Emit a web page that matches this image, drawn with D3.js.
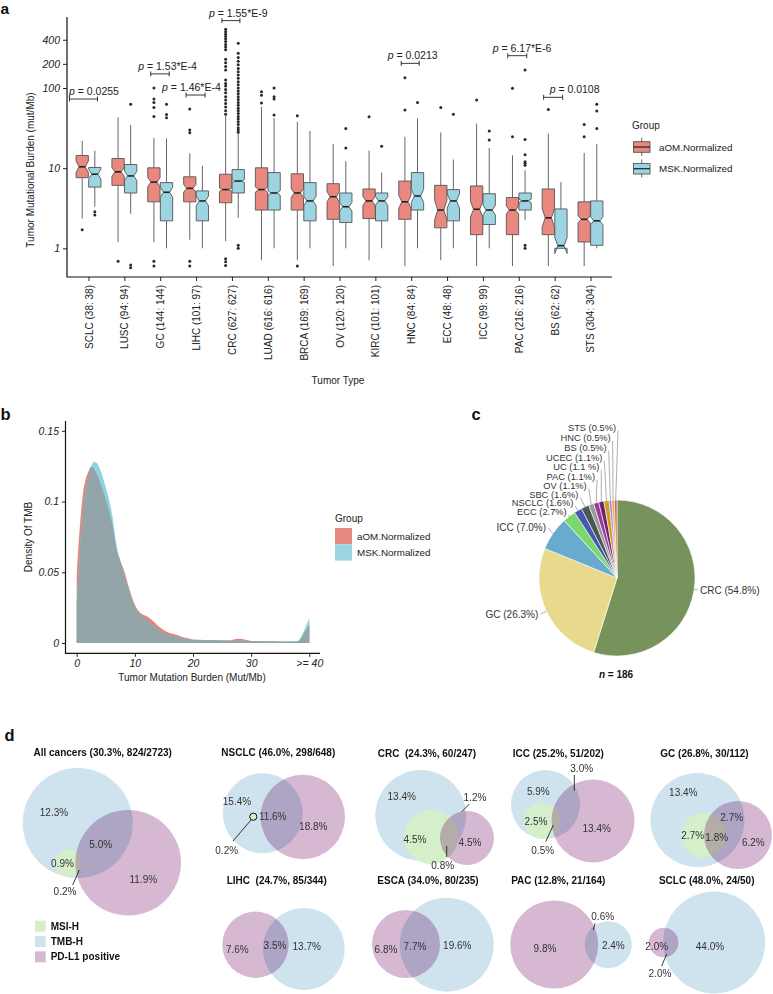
<!DOCTYPE html>
<html><head><meta charset="utf-8">
<script src="https://cdn.jsdelivr.net/npm/d3@7"></script>
<style>
body{margin:0;background:#fff;}
svg text{font-family:"Liberation Sans",Arial,Helvetica,sans-serif;}
</style></head><body>
<svg id="fig" width="773" height="994"></svg>
<script>
// ================= DATA =================
// Panel a
const tumorTypes = ["SCLC","LUSC","GC","LIHC","CRC","LUAD","BRCA","OV","KIRC","HNC","ECC","ICC","PAC","BS","STS"];
const nAOM = [38,94,144,101,627,616,169,120,101,84,48,99,216,62,304];
const nMSK = [38,94,144,97,627,616,169,120,101,84,48,99,216,62,304];
// [lower whisker, Q1, median, Q3, upper whisker]  (mut/Mb)
const aomStats = [
 [2.35,7.6,10.4,14.4,21.9],[1.2,6.1,9.0,13.2,43],[1.2,3.8,6.7,10.1,23.9],[1.28,3.8,5.6,7.8,15.3],
 [1.23,3.7,5.4,8.4,45],[0.71,3.0,5.4,10.1,58],[0.71,3.0,4.9,8.5,37.9],[0.6,2.3,4.4,6.4,20],
 [0.71,2.35,3.9,5.5,16.5],[0.6,2.3,3.8,6.9,24.6],[0.71,1.8,3.0,6.1,27.9],[0.6,1.48,3.07,6.0,36],
 [0.6,1.48,3.0,4.3,14.5],[0.6,1.48,2.4,5.5,27],[0.6,1.2,2.3,3.8,15.5]];
const mskStats = [
 [3.3,5.8,8.4,10.2,16.5],[2.7,4.9,8.0,11.1,34.5],[1.0,2.2,5.0,6.6,23.5],[1.0,2.2,3.9,5.2,10.7],
 [2.4,4.9,6.9,9.6,27],[1.0,3.0,4.9,8.8,42],[1.0,2.2,3.9,6.6,29],[1.0,2.1,3.3,4.9,12.2],
 [1.0,2.2,3.9,4.9,8.8],[1.0,3.0,4.5,8.8,41.8],[1.0,2.2,3.9,5.4,12.8],[1.0,1.98,3.0,4.8,17.9],
 [2.24,3.0,3.9,4.9,9.4],[1.0,1.0,1.08,3.1,6.7],[1.0,1.09,2.2,3.9,20]];
const aomOutliers = [
 [1.71],[0.69],[100,73,66,57,44,0.69,0.6],[54.6,29.9,27.6,0.69,0.6],
 [540,505,470,440,410,380,350,325,300,228,207,185,168,126,114,106,96,87,78,71,64,58,52,47,0.74,0.68,0.61],
 [90,81,65],[45,0.6],[],[43.8],[134,53],[57],[70.8],[99,24.6],[54],[35,24.6]];
const mskOutliers = [
 [2.85,2.6],[62.5,0.62,0.57],[62.5,46.8,42.4],[],
 [362,271,240,215,195,175,160,145,132,120,110,100,92,85,78,72,66,61,56,52,48,44,41,38,35,32,30,28,1.09,1.0],
 [100,78,73,46],[],[31.3,17.9],[18.8],[66],[47],[29,22.4],[168,22.8,14.7,12,11.5,10.9,1.09,1.0],[],[62.9,51.5,31.3]];
const yTicksA = [1,10,100,200,400];
const pCats = ["SCLC","GC","LIHC","CRC","HNC","PAC","BS"];
const pTexts = ["0.0255","1.53*E-4","1.46*E-4","1.55*E-9","0.0213","6.17*E-6","0.0108"];
const pLevels = [72.9,150,81.7,693,203,253,76.5];
const groupNames = ["aOM.Normalized","MSK.Normalized"];

// Panel b
const tmbGrid = [0,0.5,1,1.5,2,2.5,3,3.5,4,5,6,7,7.5,8,9,10,11,12,13,14,15,16,17,18,19,20,22,24,26,28,30,32,34,36,38,39,40];
const densAOM = [0.048,0.08,0.103,0.115,0.121,0.1245,0.123,0.119,0.114,0.101,0.086,0.064,0.058,0.053,0.039,0.027,0.021,0.019,0.016,0.012,0.009,0.007,0.006,0.0045,0.0035,0.0025,0.0022,0.002,0.0018,0.003,0.0015,0.0012,0.0014,0.0008,0.001,0.006,0.013];
const densMSK = [0.028,0.062,0.09,0.107,0.118,0.125,0.128,0.127,0.123,0.11,0.093,0.066,0.058,0.05,0.037,0.026,0.02,0.0165,0.013,0.0095,0.007,0.0055,0.0045,0.0035,0.0028,0.0022,0.002,0.002,0.0016,0.0018,0.0014,0.0012,0.001,0.0012,0.0015,0.008,0.0176];
const xTicksB = [0,10,20,30,40];
const xTickLabelsB = ["0","10","20","30",">= 40"];
const yTicksB = [0,0.05,0.1,0.15];

// Panel c
const pieLabels = ["CRC","GC","ICC","ECC","NSCLC","SBC","OV","PAC","UC","UCEC","BS","HNC","STS"];
const pieCounts = [102,49,13,5,3,3,2,2,2,2,1,1,1];
const piePct = ["54.8%","26.3%","7.0%","2.7%","1.6%","1.6%","1.1%","1.1%","1.1 %","1.1%","0.5%","0.5%","0.5%"];
const pieColors = ["#77925A","#E7DA8C","#68ABCF","#7DD86B","#4557B0","#4B5752","#9797A4","#9A3A8E","#6A2476","#D49B1F","#8E86DD","#E7A05A","#D6643C"];
const pieN = 186;

// Panel d
const vennTitles = ["All cancers (30.3%, 824/2723)","NSCLC (46.0%, 298/648)","CRC  (24.3%, 60/247)","ICC (25.2%, 51/202)","GC (26.8%, 30/112)",
  "LIHC  (24.7%, 85/344)","ESCA (34.0%, 80/235)","PAC (12.8%, 21/164)","SCLC (48.0%, 24/50)"];
const vennRegions = [
  ["12.3%","5.0%","0.9%","11.9%","0.2%"],
  ["15.4%","11.6%","18.8%","0.2%"],
  ["13.4%","1.2%","4.5%","4.5%","0.8%"],
  ["5.9%","3.0%","2.5%","13.4%","0.5%"],
  ["13.4%","2.7%","2.7%","1.8%","6.2%"],
  ["7.6%","3.5%","13.7%"],
  ["6.8%","7.7%","19.6%"],
  ["9.8%","2.4%","0.6%"],
  ["2.0%","44.0%","2.0%"]];
const vennSets = ["MSI-H","TMB-H","PD-L1 positive"];

// ================= LAYOUT =================
const svg = d3.select("#fig");
svg.append("rect").attr("width",773).attr("height",994).attr("fill","#fff");
const RED="#E9887E", BLUE="#9CD4E1", STROKE="#555";

function panelLabel(t,x,y,fs){svg.append("text").attr("x",x).attr("y",y).attr("font-size",fs).attr("font-weight","bold").attr("fill","#111").text(t);}
panelLabel("a",0.5,14,15.5);panelLabel("b",0.5,419.5,16.5);panelLabel("c",471.5,419.5,16.5);panelLabel("d",4.5,740.5,16.5);

// ---------- Panel a ----------
const gA = svg.append("g");
const xA = d3.scalePoint().domain(tumorTypes).range([67,612]).padding(0.6);
const yA = d3.scaleLog().domain([1,100]).range([248.3,88]);
const yAxA = gA.append("g").attr("transform","translate(67,0)")
  .call(d3.axisLeft(yA).tickValues(yTicksA).tickFormat(d3.format("d")).tickSize(4).tickPadding(3));
yAxA.select(".domain").remove();
yAxA.selectAll("text").attr("font-size",10.5).attr("font-style","italic").attr("fill","#222");
yAxA.selectAll("line").attr("stroke","#222");
const xAxA = gA.append("g").attr("transform","translate(0,277)")
  .call(d3.axisBottom(xA).tickSize(4).tickFormat((d,i)=>`${d} (${nAOM[i]}: ${nMSK[i]})`));
xAxA.select(".domain").remove();
xAxA.selectAll("line").attr("stroke","#222");
xAxA.selectAll("text").attr("font-size",10).attr("fill","#222")
  .attr("transform","rotate(-90)").attr("text-anchor","end").attr("x",-8).attr("y",0).attr("dy","0.35em");
gA.append("path").attr("d","M67,17V277H612").attr("fill","none").attr("stroke","#111").attr("stroke-width",1.2);

gA.append("text").attr("transform","translate(34,170) rotate(-90)").attr("text-anchor","middle")
  .attr("font-size",10).attr("fill","#222").text("Tumor Mutational Burden (mut/Mb)");
gA.append("text").attr("x",338).attr("y",384).attr("text-anchor","middle").attr("font-size",10).attr("fill","#222").text("Tumor Type");

const boxW = 12.3, off = 6.3;
function drawBox(g, cx, st, n, fill, outl){
  const [lw,q1,med,q3,uw] = st;
  const nd = 1.58*(Math.log10(q3)-Math.log10(q1))/Math.sqrt(n);
  const nu = Math.pow(10,Math.log10(med)+nd), nl = Math.pow(10,Math.log10(med)-nd);
  const xl = cx-boxW/2, xr = cx+boxW/2, ni = boxW/4;
  g.append("line").attr("x1",cx).attr("x2",cx).attr("y1",yA(q3)).attr("y2",yA(uw)).attr("stroke",STROKE).attr("stroke-width",0.9);
  g.append("line").attr("x1",cx).attr("x2",cx).attr("y1",yA(q1)).attr("y2",yA(lw)).attr("stroke",STROKE).attr("stroke-width",0.9);
  const pts = [[xl,yA(q3)],[xl,yA(nu)],[xl+ni,yA(med)],[xl,yA(nl)],[xl,yA(q1)],[xr,yA(q1)],[xr,yA(nl)],[xr-ni,yA(med)],[xr,yA(nu)],[xr,yA(q3)]];
  g.append("path").attr("d",d3.line()(pts)+"Z").attr("fill",fill).attr("stroke",STROKE).attr("stroke-width",0.9);
  g.append("line").attr("x1",xl+ni).attr("x2",xr-ni).attr("y1",yA(med)).attr("y2",yA(med)).attr("stroke","#222").attr("stroke-width",1.6);
  outl.forEach(v=>g.append("circle").attr("cx",cx).attr("cy",yA(v)).attr("r",1.5).attr("fill","#2a2a2a"));
}
tumorTypes.forEach((t,i)=>{
  drawBox(gA, xA(t)-off, aomStats[i], nAOM[i], RED, aomOutliers[i]);
  drawBox(gA, xA(t)+off, mskStats[i], nMSK[i], BLUE, mskOutliers[i]);
});
// p-value brackets (layout offsets relative to category centre)
const pLeft=[-19,-9.5,-10,-10,-10,-11,-11], pRight=[9,9,9,8,8,8,8], pTextDx=[-19.5,-22,-34,-23,-23.5,-26,-5];
pCats.forEach((c,i)=>{
  const cx = xA(c), yy = yA(pLevels[i]);
  gA.append("path").attr("d",`M${cx+pLeft[i]},${yy-2.5}V${yy+2.5}M${cx+pLeft[i]},${yy}H${cx+pRight[i]}M${cx+pRight[i]},${yy-2.5}V${yy+2.5}`)
    .attr("stroke","#222").attr("stroke-width",0.9).attr("fill","none");
  const tx = gA.append("text").attr("x",cx+pTextDx[i]).attr("y",yy-4).attr("font-size",10.5).attr("fill","#222");
  tx.append("tspan").attr("font-style","italic").text("p");
  tx.append("tspan").text(" = "+pTexts[i]);
});
// legend a
gA.append("text").attr("x",632).attr("y",129).attr("font-size",10).attr("fill","#222").text("Group");
[RED,BLUE].forEach((c,i)=>{
  const y0 = 141.7 + i*21.7;
  gA.append("line").attr("x1",641.7).attr("x2",641.7).attr("y1",y0-4).attr("y2",y0+14).attr("stroke",STROKE).attr("stroke-width",0.9);
  gA.append("rect").attr("x",633.5).attr("y",y0).attr("width",16.5).attr("height",10.6).attr("fill",c).attr("stroke",STROKE).attr("stroke-width",0.9);
  gA.append("line").attr("x1",633.5).attr("x2",650).attr("y1",y0+5.3).attr("y2",y0+5.3).attr("stroke","#222").attr("stroke-width",1.2);
  gA.append("text").attr("x",659).attr("y",y0+8.8).attr("font-size",9.8).attr("fill","#222").text(groupNames[i]);
});

// ---------- Panel b ----------
const gB = svg.append("g");
const xB = d3.scaleLinear().domain([0,40]).range([76.7,309.3]);
const yB = d3.scaleLinear().domain([0,0.15]).range([643,430.8]);
const areaB = d3.area().x((d,i)=>xB(tmbGrid[i])).y0(yB(0)).y1(d=>yB(d)).curve(d3.curveMonotoneX);
gB.append("path").attr("d",areaB(densAOM)).attr("fill","#E98379");
gB.append("path").attr("d",areaB(densMSK)).attr("fill","#8ED1E0");
gB.append("path").attr("d",areaB(densAOM.map((v,i)=>Math.min(v,densMSK[i])))).attr("fill","#93A5A9");
const yAxB = gB.append("g").attr("transform","translate(65.5,0)")
  .call(d3.axisLeft(yB).tickValues(yTicksB).tickFormat(d=>d===0?"0":String(d)).tickSize(3.5).tickPadding(3));
yAxB.select(".domain").remove();
yAxB.selectAll("text").attr("font-size",10.5).attr("font-style","italic").attr("fill","#222");
yAxB.selectAll("line").attr("stroke","#222");
const xAxB = gB.append("g").attr("transform","translate(0,653.3)")
  .call(d3.axisBottom(xB).tickValues(xTicksB).tickFormat((d,i)=>xTickLabelsB[i]).tickSize(3.5).tickPadding(3));
xAxB.select(".domain").remove();
xAxB.selectAll("text").attr("font-size",10.5).attr("font-style","italic").attr("fill","#222");
xAxB.selectAll("line").attr("stroke","#222");
gB.append("path").attr("d","M65.5,421V653.3H320").attr("fill","none").attr("stroke","#111").attr("stroke-width",1.2);
gB.append("text").attr("transform","translate(32,537) rotate(-90)").attr("text-anchor","middle").attr("font-size",10).attr("fill","#222").text("Density Of TMB");
gB.append("text").attr("x",192).attr("y",681).attr("text-anchor","middle").attr("font-size",10).attr("fill","#222").text("Tumor Mutation Burden (Mut/Mb)");
gB.append("text").attr("x",335).attr("y",521.5).attr("font-size",10).attr("fill","#222").text("Group");
["#E98A80","#9DD5E1"].forEach((c,i)=>{
  gB.append("rect").attr("x",335).attr("y",528+i*16.3).attr("width",17).attr("height",16.3).attr("fill",c);
  gB.append("text").attr("x",357).attr("y",539.5+i*16.5).attr("font-size",9.8).attr("fill","#222").text(groupNames[i]);
});

// ---------- Panel c ----------
const gC = svg.append("g");
const pcx = 617, pcy = 578, pr = 78;
const pieGen = d3.pie().sort(null).value(d=>d);
const arcs = pieGen(pieCounts);
const arcGen = d3.arc().innerRadius(0).outerRadius(pr);
gC.selectAll("path.slice").data(arcs).join("path").attr("class","slice")
  .attr("transform",`translate(${pcx},${pcy})`).attr("d",arcGen)
  .attr("fill",(d,i)=>pieColors[i]).attr("stroke","#fff").attr("stroke-width",0.6);
// label anchor layout: [x, y(centre), anchor]
const pieLabelPos = [[700,590,"start"],[538.3,614.3,"end"],[546,527.7,"end"],[566.7,512,"end"],[573.3,503,"end"],[578.3,494.5,"end"],
  [586.7,485.5,"end"],[595,477,"end"],[599.3,466.7,"end"],[602.3,457.7,"end"],[606.7,447.7,"end"],[610.7,437.7,"end"],[616,427.7,"end"]];
arcs.forEach((a,i)=>{
  const m = (a.startAngle+a.endAngle)/2;
  const ex = pcx + pr*Math.sin(m), ey = pcy - pr*Math.cos(m);
  const [lx,ly,anc] = pieLabelPos[i];
  const sx = anc==="start" ? lx-2 : lx+2, sy = i>=3 ? ly+3 : ly;
  gC.append("line").attr("x1",sx).attr("y1",sy).attr("x2",ex).attr("y2",ey).attr("stroke","#777").attr("stroke-width",0.6);
  gC.append("text").attr("x",lx).attr("y",ly).attr("dy","0.35em").attr("text-anchor",anc).attr("font-size",i>=3?9.3:10).attr("fill","#333")
    .text(`${pieLabels[i]} (${piePct[i]})`);
});
const nt = gC.append("text").attr("x",616).attr("y",677.5).attr("text-anchor","middle").attr("font-size",10).attr("font-weight","bold").attr("fill","#111");
nt.append("tspan").attr("font-style","italic").text("n");
nt.append("tspan").text(" = "+pieN);

// ---------- Panel d ----------
const gD = svg.append("g").style("isolation","isolate");
const vennColor = {"MSI-H":"#D6EFCB","TMB-H":"#CFE3EE","PD-L1 positive":"#D6B8D2"};
// circle layout per diagram: [set, cx, cy, r]
const vennCircles = [
  [["TMB-H",77.7,823,55],["MSI-H",68.5,863,13.5],["PD-L1 positive",128.2,862.8,52.8]],
  [["TMB-H",262.7,813.3,40],["PD-L1 positive",302.8,817,42.2]],
  [["TMB-H",420.7,815.3,45.3],["MSI-H",431,837,27],["PD-L1 positive",467,838,27]],
  [["TMB-H",545.5,804.5,34.5],["MSI-H",542,821,18],["PD-L1 positive",593,821,41.5]],
  [["TMB-H",697.5,820,47],["MSI-H",704,835.3,22.3],["PD-L1 positive",738,835,34]],
  [["TMB-H",303.8,949,41],["PD-L1 positive",255.5,944.7,33.2]],
  [["TMB-H",446.7,944.7,47],["PD-L1 positive",406,944,34]],
  [["TMB-H",608.3,944.7,23.5],["PD-L1 positive",554.2,944.5,44]],
  [["TMB-H",714.2,942.5,51],["PD-L1 positive",663.7,942.5,14.7]]];
const vennTitlePos = [[102.7,752.3],[278.3,752.3],[427,753.3],[558.3,753.3],[704.5,753.3],[276.7,880],[428,880.7],[558.3,880.7],[706.7,880.7]];
const vennLabelPos = [
  [[54,812.7],[100.7,844],[62.5,863.3],[143.3,879.3],[65,891.7]],
  [[237,801],[272.7,816],[313.3,826],[226.7,850.7]],
  [[401.7,796.7],[475,797.3],[415,839],[470,842.7],[442.7,865]],
  [[538.3,791],[581.7,768.3],[536,821.7],[596.7,828.3],[542.7,850]],
  [[683.3,792.7],[731.7,817.3],[692.7,835],[716.7,837.3],[753.3,842.3]],
  [[237.3,949.3],[275,945],[306.7,946]],
  [[386,949.3],[415,946],[457.3,945]],
  [[545,948.3],[613.3,945],[602.7,916.7]],
  [[656.7,946],[710,946],[660,973.3]]];
const vennLeaders = [[79.3,870,72.7,885],[251,820,233,841],[469.3,804,461.7,811.7],[446.7,846,446.7,857],
  [574.3,775,574.3,790.7],[553.3,825,545.7,841.7],[595,923.3,593.3,930],[666.7,954,661.7,966]];
vennCircles.forEach((cs,k)=>{
  const order = ["TMB-H","MSI-H","PD-L1 positive"];
  order.forEach(s=>{
    cs.filter(c=>c[0]===s).forEach(c=>{
      gD.append("circle").attr("cx",c[1]).attr("cy",c[2]).attr("r",c[3]).attr("fill",vennColor[s])
        .style("mix-blend-mode", s==="PD-L1 positive" ? "multiply" : "normal");
    });
  });
  gD.append("text").attr("x",vennTitlePos[k][0]).attr("y",vennTitlePos[k][1]).attr("dy","0.35em").attr("text-anchor","middle")
    .attr("font-size",10).attr("font-weight","bold").attr("fill","#111").style("white-space","pre").text(vennTitles[k]);
  vennRegions[k].forEach((t,j)=>{
    gD.append("text").attr("x",vennLabelPos[k][j][0]).attr("y",vennLabelPos[k][j][1]).attr("dy","0.35em").attr("text-anchor","middle")
      .attr("font-size",10).attr("fill","#333").text(t);
  });
});
// tiny MSI-H∩TMB-H∩PD-L1 marker in NSCLC
gD.append("circle").attr("cx",253.3).attr("cy",816.7).attr("r",3.6).attr("fill",vennColor["MSI-H"]).attr("stroke","#111").attr("stroke-width",1);
vennLeaders.forEach(l=>gD.append("line").attr("x1",l[0]).attr("y1",l[1]).attr("x2",l[2]).attr("y2",l[3]).attr("stroke","#222").attr("stroke-width",0.9));
// legend d
vennSets.forEach((s,i)=>{
  const yy = 920.7 + i*15.3;
  gD.append("rect").attr("x",35).attr("y",yy).attr("width",10.7).attr("height",11).attr("fill",vennColor[s]);
  gD.append("text").attr("x",50.7).attr("y",yy+5.5).attr("dy","0.35em").attr("font-size",10).attr("font-weight","bold").attr("fill","#111").text(s);
});
</script>
</body></html>
